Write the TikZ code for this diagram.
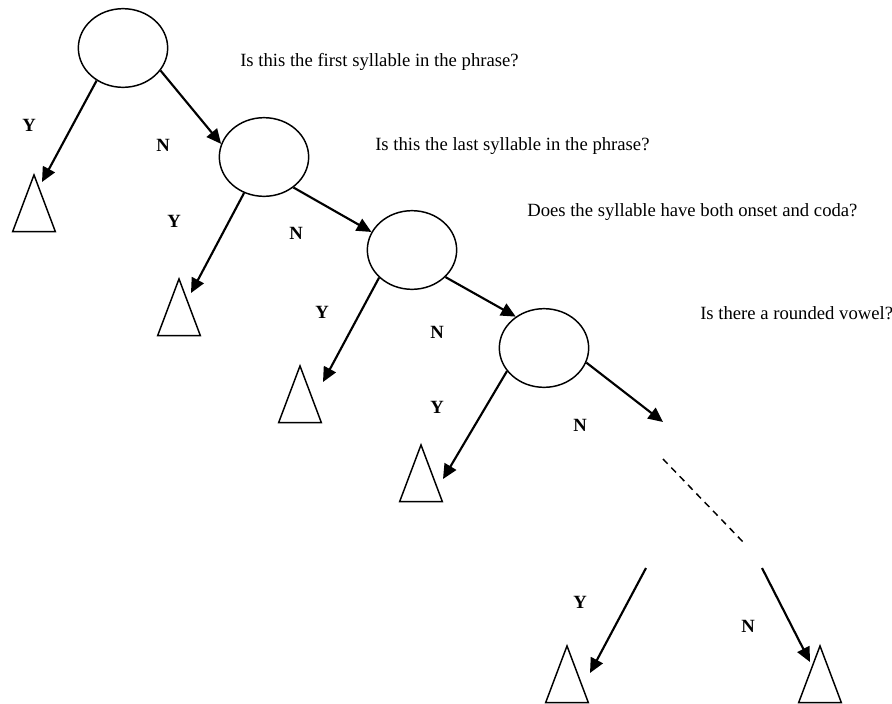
\documentclass[tikz,border=0pt]{standalone}
\usepackage{fontspec}
\setmainfont{Liberation Serif}
\usetikzlibrary{shapes.geometric,arrows.meta}

\begin{document}
\begin{tikzpicture}[
    x=0.75pt, y=-0.75pt,
    font=\fontsize{14}{16}\selectfont,
    q_node/.style={draw, ellipse, line width=1.1pt, minimum width=67pt, minimum height=59pt, inner sep=0pt},
    leaf_box/.style={draw, isosceles triangle, shape border rotate=90, isosceles triangle stretches, line width=1.1pt, minimum width=32pt, minimum height=42.5pt, inner sep=0pt, anchor=apex},
    arrow/.style={-{Triangle[length=11pt,width=10pt]}, line width=1.6pt},
    dots_line/.style={dash pattern=on 5pt off 4pt, line width=1.1pt},
    ans_lbl/.style={font=\fontsize{14}{16}\selectfont\bfseries},
    q_text/.style={anchor=west, inner sep=0pt}
]
\useasboundingbox (0,0) rectangle (892,703);

% QUESTION NODES
\node[q_node] (first) at (123,48) {};
\node[q_node] (last) at (264,157) {};
\node[q_node] (onset) at (412,250) {};
\node[q_node] (round) at (544,348) {};

\node[q_text] (first_q) at (240,62) {Is this the first syllable in the phrase?};
\node[q_text] (last_q) at (375,146) {Is this the last syllable in the phrase?};
\node[q_text] (onset_q) at (527,212) {Does the syllable have both onset and coda?};
\node[q_text] (round_q) at (700,313) {Is there a rounded vowel?};

% LEAVES
\node[leaf_box] (leaf_first) at (34,173) {};
\node[leaf_box] (leaf_last) at (179,277) {};
\node[leaf_box] (leaf_onset) at (300,364) {};
\node[leaf_box] (leaf_round) at (421,443) {};
\node[leaf_box] (leaf_y) at (567,644) {};
\node[leaf_box] (leaf_n) at (820,644) {};

% FREE ENDS
\coordinate (first_y) at (42,182);
\coordinate (last_y) at (191,293);
\coordinate (onset_y) at (323,382);
\coordinate (round_y) at (443,479);
\coordinate (round_n) at (663,422);
\coordinate (dots_top) at (663,459);
\coordinate (dots_end) at (745,544);
\coordinate (deep_y) at (646,568);
\coordinate (deep_y_end) at (590,673);
\coordinate (deep_n) at (762,568);
\coordinate (deep_n_end) at (810,662);

% LABELS
\node[ans_lbl] (lbl_y1) at (29,125) {Y};
\node[ans_lbl] (lbl_n1) at (163,145) {N};
\node[ans_lbl] (lbl_y2) at (174,221) {Y};
\node[ans_lbl] (lbl_n2) at (296,233) {N};
\node[ans_lbl] (lbl_y3) at (322,312) {Y};
\node[ans_lbl] (lbl_n3) at (437,332) {N};
\node[ans_lbl] (lbl_y4) at (437,407) {Y};
\node[ans_lbl] (lbl_n4) at (580,425) {N};
\node[ans_lbl] (lbl_y5) at (580,602) {Y};
\node[ans_lbl] (lbl_n5) at (748,626) {N};

% ARROWS
\draw[arrow] (first.231) -- (first_y);
\draw[arrow] (first.329) -- (last.163);
\draw[arrow] (last.241) -- (last_y);
\draw[arrow] (last.314) -- (onset.156);
\draw[arrow] (onset.220) -- (onset_y);
\draw[arrow] (onset.321) -- (round.132);
\draw[arrow] (round.212) -- (round_y);
\draw[arrow] (round.341) -- (round_n);
\draw[dots_line] (dots_top) -- (dots_end);
\draw[arrow] (deep_y) -- (deep_y_end);
\draw[arrow] (deep_n) -- (deep_n_end);

\end{tikzpicture}
\end{document}
